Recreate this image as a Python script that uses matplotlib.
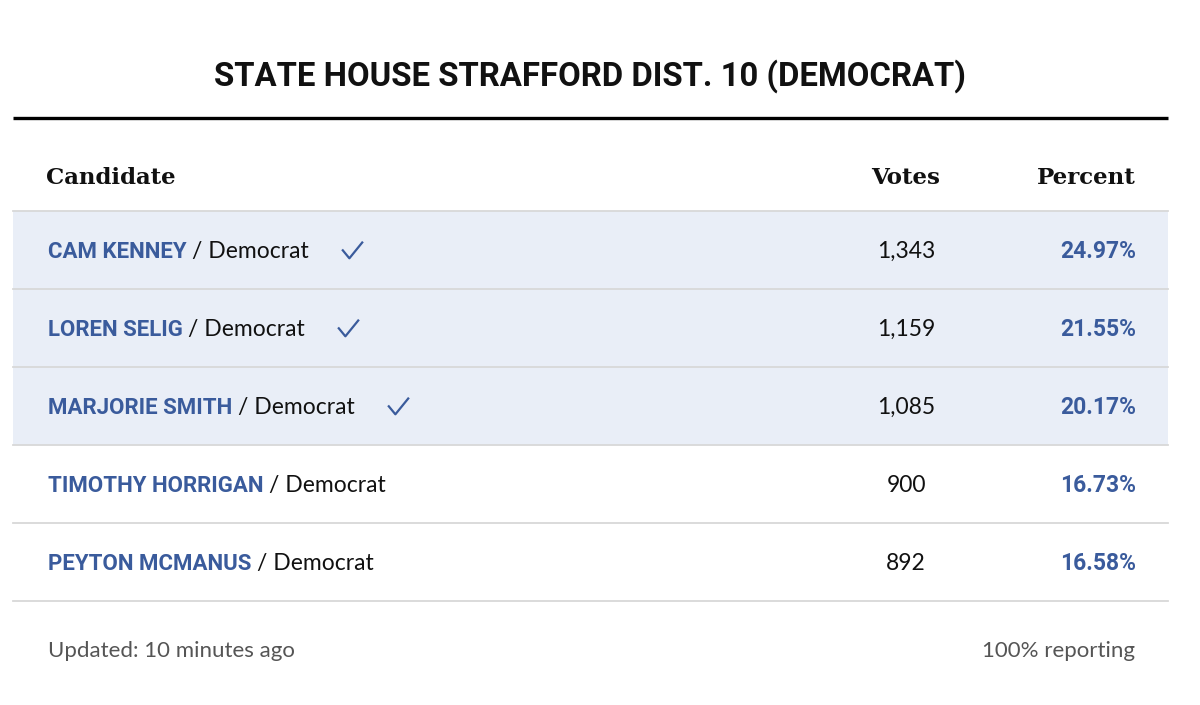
import matplotlib
matplotlib.use("Agg")
import matplotlib.pyplot as plt
from matplotlib.patches import Rectangle
from matplotlib.path import Path

# ---- data ----
title = "STATE HOUSE STRAFFORD DIST. 10 (DEMOCRAT)"
names = ["CAM KENNEY", "LOREN SELIG", "MARJORIE SMITH", "TIMOTHY HORRIGAN", "PEYTON MCMANUS"]
party = ["Democrat"] * 5
votes = [1343, 1159, 1085, 900, 892]
percent = [24.97, 21.55, 20.17, 16.73, 16.58]
winner = [True, True, True, False, False]
updated = "Updated: 10 minutes ago"
reporting = "100% reporting"

BLUE = "#3a5b9c"
SHADE = "#e9eef7"
GRID = "#d8d8d8"
BOLD = "Roboto"
SANS = "Lato"
SERIF = "DejaVu Serif"

# thin check mark drawn as a marker
CHECK = Path([(-1.0, 0.1), (-0.3, -0.75), (1.0, 0.85)],
             [Path.MOVETO, Path.LINETO, Path.LINETO])

W, H = 1200, 705
fig = plt.figure(figsize=(W / 100, H / 100), dpi=100)
ax = fig.add_axes([0, 0, 1, 1])
ax.set_xlim(0, W)
ax.set_ylim(H, 0)
ax.axis("off")

left, right = 13, 1168
ax.text(590, 86, title, ha="center", va="baseline", fontsize=23.7,
        fontweight="bold", family=BOLD, color="#111111")
ax.plot([left, right], [118, 118], color="black", lw=2.4, solid_capstyle="butt")

# header row
hy = 184
for x, lab, ha in [(46, "Candidate", "left"), (940, "Votes", "right"), (1136, "Percent", "right")]:
    ax.text(x, hy, lab, ha=ha, va="baseline", fontsize=16.5,
            fontweight="bold", family=SERIF, color="#111111")

top = 211
row_h = 78
ax.plot([left, right], [top, top], color=GRID, lw=1.3)
party_texts = []
for i, name in enumerate(names):
    y0 = top + i * row_h
    yb = y0 + row_h / 2 + 8
    if winner[i]:
        ax.add_patch(Rectangle((left, y0), right - left, row_h, color=SHADE, lw=0, zorder=0))
    ax.plot([left, right], [y0 + row_h, y0 + row_h], color=GRID, lw=1.3)
    t = ax.text(48, yb, name, ha="left", va="baseline", fontsize=16,
                fontweight="bold", family=BOLD, color=BLUE)
    t2 = ax.annotate("/ " + party[i], xy=(1, yb), xycoords=(t, "data"),
                     xytext=(4, 0), textcoords="offset points",
                     ha="left", va="baseline", fontsize=16.5, family=SANS, color="#111111")
    party_texts.append(t2)
    ax.text(906, yb, f"{votes[i]:,}", ha="center", va="baseline", fontsize=16.5,
            family=SANS, color="#111111")
    ax.text(1136, yb, f"{percent[i]:.2f}%", ha="right", va="baseline", fontsize=16.5,
            fontweight="bold", family=BOLD, color=BLUE)

# winner checks, placed after the party label
fig.canvas.draw()
inv = ax.transData.inverted()
for i, t2 in enumerate(party_texts):
    if not winner[i]:
        continue
    bb = t2.get_window_extent()
    x_end = inv.transform((bb.x1, bb.y0))[0]
    yc = top + i * row_h + row_h / 2
    ax.plot([x_end + 43], [yc], marker=CHECK, markersize=15, mew=1.6,
            mec=BLUE, mfc="none", ls="none")

ax.text(48, 657, updated, ha="left", va="baseline", fontsize=16, family=SANS, color="#555555")
ax.text(1135, 657, reporting, ha="right", va="baseline", fontsize=16, family=SANS, color="#555555")

fig.savefig("out.png", dpi=100, facecolor="white")
